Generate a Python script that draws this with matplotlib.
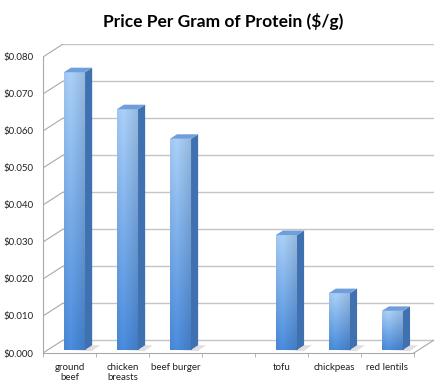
import matplotlib.pyplot as plt
import numpy as np
from matplotlib.patches import Polygon

# data (empty slot between the meat and the plant groups)
categories = ['ground\nbeef', 'chicken\nbreasts', 'beef burger', '', 'tofu', 'chickpeas', 'red lentils']
prices = [0.075, 0.065, 0.057, None, 0.031, 0.0153, 0.0105]
yticks = [0.000, 0.010, 0.020, 0.030, 0.040, 0.050, 0.060, 0.070, 0.080]

DX, DY = 0.38, 0.0035      # depth of the fake 3d box (data units)
BW = 0.4                   # bar front width
F0, F1 = 0.25, 0.6         # bar position inside the depth
grid_c = '#c4c4c4'
axis_c = '#a8a8a8'

plt.rcParams['font.family'] = ['Lato', 'DejaVu Sans']

fig = plt.figure(figsize=(4.47, 3.92), dpi=100)
ax = fig.add_axes([43/447, 39/392, 391/447, 309/392])
n = len(categories)
xl, xr = -0.5, n - 0.5

# back wall gridlines + left wall diagonals
for v in yticks:
    ax.plot([xl + DX, xr + DX], [v + DY, v + DY], color=grid_c, lw=1, zorder=1)
    ax.plot([xl, xl + DX], [v, v + DY], color=axis_c, lw=0.8, zorder=1)
# floor right edge
ax.plot([xr, xr + DX], [0, DY], color=axis_c, lw=0.8, zorder=1)

# bars
ny, nx = 120, 30
t = np.linspace(0, 1, ny)[:, None, None]
c_top = np.array([0.67, 0.82, 0.98])
c_bot = np.array([0.29, 0.55, 0.87])
img = c_top * (1 - t) + c_bot * t
h = np.linspace(0, 1, nx)
shade = np.where(h < 0.3, 0.95 + h / 0.3 * 0.05, 1 - (h - 0.3) / 0.7 * 0.13)
img = np.clip(img * shade[None, :, None], 0, 1)

d = F1 - F0
for i, p in enumerate(prices):
    if p is None:
        continue
    x0 = i - BW / 2 + F0 * DX
    x1 = x0 + BW
    y0 = F0 * DY
    top = y0 + p
    # floor shadow
    ax.add_patch(Polygon([(x0 + 0.05, y0), (x1 + 0.12, y0 - 0.0004),
                          (x1 + d * DX + 0.15, y0 + d * DY), (x0 + d * DX, y0 + d * DY)],
                         closed=True, color='#b8b8b8', alpha=0.45, lw=0, zorder=2))
    ax.imshow(img, extent=(x0, x1, y0, top), origin='upper', aspect='auto',
              interpolation='bilinear', zorder=3)
    ax.add_patch(Polygon([(x1, y0), (x1 + d * DX, y0 + d * DY),
                          (x1 + d * DX, top + d * DY), (x1, top)],
                         closed=True, color='#3f70b0', lw=0, zorder=3))
    ax.add_patch(Polygon([(x0, top), (x1, top), (x1 + d * DX, top + d * DY),
                          (x0 + d * DX, top + d * DY)],
                         closed=True, color='#6f9edc', lw=0, zorder=3))

ax.set_xlim(xl, xr + DX)
ax.set_ylim(0, 0.080 + DY)

ax.set_yticks(yticks)
ax.set_yticklabels(['$%.3f' % v for v in yticks])
ax.set_xticks(range(n))
ax.set_xticklabels(categories, linespacing=1.15)
ax.set_xticks(np.arange(xl, xr + 0.01, 1), minor=True)
ax.tick_params(axis='both', which='major', length=0, labelsize=7, colors='#222222')
ax.tick_params(axis='y', pad=7)
ax.tick_params(axis='x', pad=7)
ax.tick_params(axis='x', which='minor', length=3, color=axis_c, direction='out')
ax.tick_params(axis='y', which='minor', length=0)
for s in ['top', 'right']:
    ax.spines[s].set_visible(False)
for s in ['left', 'bottom']:
    ax.spines[s].set_color(axis_c)
    ax.spines[s].set_linewidth(0.8)
ax.spines['bottom'].set_bounds(xl, xr)
ax.spines['left'].set_bounds(0, 0.080)
ax.patch.set_alpha(0)

fig.text(0.5, 1 - 21/392, 'Price Per Gram of Protein ($/g)', ha='center', va='center',
         fontsize=12.5, fontweight='bold')

fig.savefig('out.png', dpi=100)
